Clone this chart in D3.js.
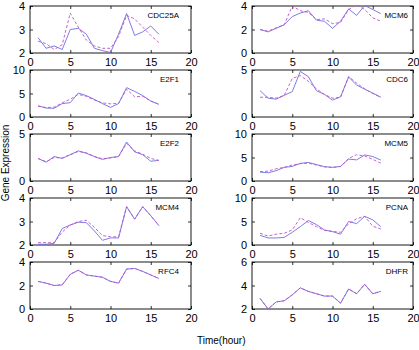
<!DOCTYPE html>
<meta charset="utf-8">
<script src="https://d3js.org/d3.v7.min.js"></script>
<style>
  body { margin: 0; background: #fff; font-family: "Liberation Sans", Arial, sans-serif; }
  .tick text { font-size: 11px; fill: #000; }
  .gene { font-size: 8px; fill: #000; }
</style>
<div id="chart"></div>
<script>
  // time points (hours)
  var hours = [1, 2, 3, 4, 5, 6, 7, 8, 9, 10, 11, 12, 13, 14, 15, 16];
  var xTicks = [0, 5, 10, 15, 20];

  // solid = measured, dashed = model
  var cdc25aSolid = [2.65, 2.2, 2.3, 2.15, 3.0, 3.05, 2.8, 2.2, 2.1, 2.02, 2.8, 3.68, 2.75, 2.9, 3.15, 2.8];
  var cdc25aDash  = [2.5, 2.4, 2.15, 2.35, 3.7, 3.1, 2.55, 2.3, 2.2, 2.2, 2.7, 3.6, 3.45, 3.1, 2.75, 2.45];
  var e2f1Solid = [2.4, 1.9, 1.85, 2.85, 3.05, 5.1, 4.55, 3.75, 2.85, 2.05, 2.85, 6.25, 5.45, 4.55, 3.4, 2.7];
  var e2f1Dash  = [2.3, 2.0, 2.1, 3.0, 3.8, 4.8, 4.4, 3.6, 3.0, 2.8, 2.9, 5.9, 4.3, 4.4, 3.4, 2.7];
  var e2f2Solid = [2.4, 2.0, 2.6, 2.4, 2.8, 3.2, 2.95, 2.6, 2.3, 2.5, 2.6, 4.15, 3.1, 2.8, 2.1, 2.2];
  var e2f2Dash  = [2.4, 2.05, 2.5, 2.45, 2.8, 3.15, 3.0, 2.6, 2.35, 2.45, 2.6, 4.0, 3.2, 2.85, 2.4, 2.2];
  var mcm4Solid = [2.03, 2.03, 2.07, 2.7, 2.85, 2.97, 2.95, 2.6, 2.2, 2.3, 2.3, 3.63, 3.1, 3.63, 3.25, 2.83];
  var mcm4Dash  = [2.1, 2.1, 2.1, 2.55, 2.85, 3.0, 3.05, 2.75, 2.4, 2.35, 2.35, 3.63, 3.1, 3.63, 3.25, 2.83];
  var rfc4Solid = [2.35, 2.2, 2.0, 2.05, 2.95, 3.3, 2.9, 2.8, 2.7, 2.35, 2.2, 3.4, 3.45, 3.2, 2.9, 2.6];
  var rfc4Dash  = [2.35, 2.2, 2.0, 2.05, 2.95, 3.3, 2.9, 2.8, 2.7, 2.35, 2.2, 3.4, 3.45, 3.2, 2.9, 2.6];
  var mcm6Solid = [2.0, 1.8, 2.1, 2.4, 3.1, 3.4, 3.6, 2.8, 2.7, 2.1, 2.7, 3.75, 3.2, 4.05, 3.7, 3.35];
  var mcm6Dash  = [2.0, 1.85, 2.15, 2.4, 4.0, 3.6, 3.45, 2.85, 2.9, 2.5, 2.6, 3.7, 4.1, 3.7, 3.0, 2.7];
  var cdc6Solid = [2.8, 2.0, 1.9, 2.3, 2.7, 4.85, 4.3, 2.8, 2.4, 1.8, 2.15, 4.25, 3.4, 2.95, 2.55, 2.1];
  var cdc6Dash  = [2.1, 2.1, 2.0, 2.3, 4.1, 4.4, 3.8, 3.0, 2.4, 2.0, 2.1, 4.3, 3.6, 3.0, 2.5, 2.1];
  var mcm5Solid = [1.9, 1.75, 2.2, 2.9, 3.1, 3.75, 3.95, 3.5, 3.05, 2.9, 3.1, 4.65, 4.5, 5.55, 5.2, 4.45];
  var mcm5Dash  = [2.0, 2.1, 2.6, 2.9, 3.4, 3.7, 3.8, 3.4, 3.0, 2.9, 3.1, 4.8, 5.6, 5.3, 4.6, 3.8];
  var pcnaSolid = [2.05, 1.5, 1.5, 1.6, 2.7, 3.9, 5.2, 4.35, 3.2, 2.85, 2.3, 5.0, 4.55, 6.1, 5.35, 3.9];
  var pcnaDash  = [2.5, 1.9, 2.3, 2.5, 3.2, 5.8, 4.8, 3.9, 3.1, 2.9, 2.7, 4.5, 5.6, 6.1, 4.0, 3.4];
  var dhfrSolid = [2.9, 2.0, 2.6, 2.7, 3.2, 3.8, 3.5, 3.3, 3.1, 3.1, 2.5, 3.7, 3.3, 4.1, 3.3, 3.5];
  var dhfrDash  = [2.9, 2.0, 2.6, 2.7, 3.2, 3.8, 3.5, 3.3, 3.1, 3.1, 2.5, 3.7, 3.3, 4.1, 3.3, 3.5];

  var panels = [
    { name: "CDC25A", col: 0, row: 0, solid: cdc25aSolid, dash: cdc25aDash, y: [2, 4], ticks: [2, 3, 4] },
    { name: "E2F1",   col: 0, row: 1, solid: e2f1Solid,   dash: e2f1Dash,   y: [0, 10], ticks: [0, 5, 10] },
    { name: "E2F2",   col: 0, row: 2, solid: e2f2Solid,   dash: e2f2Dash,   y: [0, 5], ticks: [0, 5] },
    { name: "MCM4",   col: 0, row: 3, solid: mcm4Solid,   dash: mcm4Dash,   y: [2, 4], ticks: [2, 3, 4] },
    { name: "RFC4",   col: 0, row: 4, solid: rfc4Solid,   dash: rfc4Dash,   y: [0, 4], ticks: [0, 2, 4] },
    { name: "MCM6",   col: 1, row: 0, solid: mcm6Solid,   dash: mcm6Dash,   y: [0, 4], ticks: [0, 2, 4] },
    { name: "CDC6",   col: 1, row: 1, solid: cdc6Solid,   dash: cdc6Dash,   y: [0, 5], ticks: [0, 5] },
    { name: "MCM5",   col: 1, row: 2, solid: mcm5Solid,   dash: mcm5Dash,   y: [0, 10], ticks: [0, 5, 10] },
    { name: "PCNA",   col: 1, row: 3, solid: pcnaSolid,   dash: pcnaDash,   y: [0, 10], ticks: [0, 5, 10] },
    { name: "DHFR",   col: 1, row: 4, solid: dhfrSolid,   dash: dhfrDash,   y: [2, 6], ticks: [2, 4, 6] }
  ];

  var W = 419, H = 350;
  var colLeft = [30, 252], pw = 161, ph = 47;
  var rowTop = [6, 70, 134, 198, 262];
  var labelInset = [12, 5];

  var svg = d3.select("#chart").append("svg")
    .attr("width", W)
    .attr("height", H);

  var x = d3.scaleLinear().domain([0, 20]).range([0, pw]);

  panels.forEach(function (p, i) {
    var y = d3.scaleLinear().domain(p.y).range([ph, 0]);
    var g = svg.append("g")
      .attr("transform", "translate(" + colLeft[p.col] + "," + rowTop[p.row] + ")");

    g.append("clipPath").attr("id", "clip" + i)
      .append("rect").attr("width", pw).attr("height", ph);

    // inward ticks on all four sides
    g.append("g").attr("transform", "translate(0," + ph + ")")
      .call(d3.axisBottom(x).tickValues(xTicks).tickSize(-3).tickPadding(5).tickFormat(d3.format("d")));
    g.append("g")
      .call(d3.axisTop(x).tickValues(xTicks).tickSize(-3).tickFormat(""));
    g.append("g")
      .call(d3.axisLeft(y).tickValues(p.ticks).tickSize(-3).tickPadding(5).tickFormat(d3.format("d")));
    g.append("g").attr("transform", "translate(" + pw + ",0)")
      .call(d3.axisRight(y).tickValues(p.ticks).tickSize(-3).tickFormat(""));
    g.selectAll(".domain").remove();
    g.selectAll(".tick line").attr("stroke", "#000").attr("stroke-width", 0.8);

    g.append("rect")
      .attr("width", pw).attr("height", ph)
      .attr("fill", "none").attr("stroke", "#000").attr("stroke-width", 0.9);

    var line = function (vals) {
      return d3.line()
        .x(function (d, j) { return x(hours[j]); })
        .y(function (d) { return y(d); })(vals);
    };

    var lines = g.append("g").attr("clip-path", "url(#clip" + i + ")");
    lines.append("path")
      .attr("d", line(p.solid))
      .attr("fill", "none").attr("stroke", "#6e6ee0").attr("stroke-width", 0.9);
    lines.append("path")
      .attr("d", line(p.dash))
      .attr("fill", "none").attr("stroke", "#c050c8").attr("stroke-width", 0.9)
      .attr("stroke-dasharray", "3,2");

    g.append("text")
      .attr("class", "gene")
      .attr("x", pw - labelInset[p.col])
      .attr("y", 12)
      .attr("text-anchor", "end")
      .text(p.name);
  });

  svg.append("text")
    .attr("transform", "translate(9,163)rotate(-90)")
    .attr("text-anchor", "middle")
    .style("font-size", "10px")
    .text("Gene Expression");

  svg.append("text")
    .attr("x", 197)
    .attr("y", 344)
    .style("font-size", "10px")
    .text("Time(hour)");
</script>
